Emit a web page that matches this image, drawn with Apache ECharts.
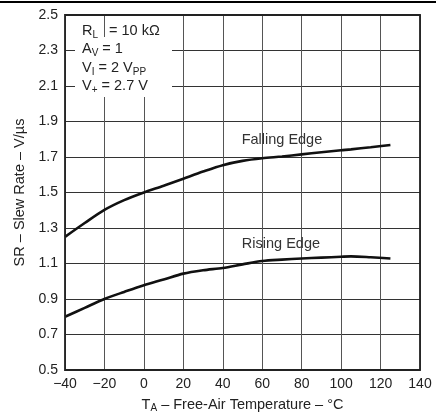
<!DOCTYPE html>
<html><head><meta charset="utf-8">
<script src="https://cdn.jsdelivr.net/npm/echarts@6/dist/echarts.min.js"></script>
<style>html,body{margin:0;padding:0;background:#fff}#c{width:436px;height:412px}</style>
</head><body><div id="c"></div>
<script>
const temps = [-40, -30, -20, -10, 0, 10, 20, 30, 40, 50, 60, 70, 80, 90, 100, 105, 115, 125];
const fallingEdge = [1.25, 1.328, 1.402, 1.457, 1.50, 1.538, 1.578, 1.618, 1.654, 1.678, 1.693, 1.703, 1.715, 1.727, 1.738, 1.743, 1.755, 1.768];
const risingEdge = [0.80, 0.85, 0.90, 0.94, 0.978, 1.01, 1.043, 1.062, 1.075, 1.095, 1.114, 1.122, 1.128, 1.133, 1.138, 1.14, 1.135, 1.128];
const xTicks = [-40, -20, 0, 20, 40, 60, 80, 100, 120, 140];
const yTicks = [0.5, 0.7, 0.9, 1.1, 1.3, 1.5, 1.7, 1.9, 2.1, 2.3, 2.5];
const curveLabels = [{name: 'Falling Edge', at: [70, 1.797]}, {name: 'Rising Edge', at: [69.5, 1.212]}];

const font = 'Liberation Sans, Arial, Helvetica, sans-serif';
const chart = echarts.init(document.getElementById('c'));
const pairs = arr => temps.map((t, i) => [t, arr[i]]);
function mk(name, arr, lab) {
  return {
    type: 'line', name, data: pairs(arr), smooth: 0.3, symbol: 'none',
    lineStyle: {color: '#111', width: 2.6},
    markPoint: {
      symbol: 'circle', symbolSize: 0,
      data: [{coord: lab.at, value: lab.name}],
      label: {show: true, formatter: lab.name, color: '#333', fontSize: 14.5, fontFamily: font, position: 'inside'}
    }
  };
}
chart.setOption({
  animation: false,
  grid: {left: 65, right: 16, top: 15, bottom: 42, containLabel: false, outerBoundsMode: 'none'},
  xAxis: {
    type: 'value', min: -40, max: 140, interval: 20,
    axisLine: {show: false}, axisTick: {show: false},
    axisLabel: {color: '#222', fontSize: 14, fontFamily: font, margin: 7,
      formatter: v => xTicks.includes(v) ? String(v).replace('-', '\u2212') : ''},
    splitLine: {show: true, lineStyle: {color: '#555', width: 1}},
    name: '{t|T}{s|A}{t| \u2013 Free-Air Temperature \u2013 \u00b0C}', nameLocation: 'middle', nameGap: 26,
    nameTextStyle: {rich: {t: {fontSize: 14.5, color: '#222', fontFamily: font}, s: {fontSize: 10, color: '#222', fontFamily: font, verticalAlign: 'bottom', padding: [7, 0, 0, 0]}}}
  },
  yAxis: {
    type: 'value', min: 0.5, max: 2.5, interval: 0.2,
    axisLine: {show: false}, axisTick: {show: false},
    axisLabel: {color: '#222', fontSize: 14, fontFamily: font, margin: 7,
      formatter: v => { const f = yTicks.find(t => Math.abs(t - v) < 1e-6); return f !== undefined ? f.toFixed(1) : ''; }},
    splitLine: {show: true, lineStyle: {color: '#333', width: 1}},
    name: 'SR \u2013 Slew Rate \u2013 V/\u00b5s', nameLocation: 'middle', nameGap: 34,
    nameTextStyle: {fontSize: 14.5, color: '#222', fontFamily: font}
  },
  series: [mk('Falling Edge', fallingEdge, curveLabels[0]), mk('Rising Edge', risingEdge, curveLabels[1])],
  graphic: [
    {type: 'line', shape: {x1: 0, y1: 2, x2: 436, y2: 2}, style: {stroke: '#000', lineWidth: 2}},
    {type: 'rect', shape: {x: 65, y: 15, width: 355, height: 355}, style: {fill: 'none', stroke: '#222', lineWidth: 1.8}, z: 10},
    {type: 'rect', shape: {x: 108, y: 16, width: 64, height: 22}, style: {fill: '#fff'}, z: 5},
    {type: 'rect', shape: {x: 75, y: 37, width: 97, height: 60}, style: {fill: '#fff'}, z: 5},
    {type: 'text', left: 82, top: 23, z: 6, style: {
      text: '{t|R}{s|L}{g|}{t|= 10 k\u03a9}\n{t|A}{s|V}{t| = 1}\n{t|V}{s|I}{t| = 2 V}{s|PP}\n{t|V}{s|+}{t| = 2.7 V}',
      rich: {
        t: {fontSize: 14.5, fill: '#222', fontFamily: font, lineHeight: 18.5},
        g: {width: 11, fontSize: 14.5, lineHeight: 18.5},
        s: {fontSize: 10, fill: '#222', fontFamily: font, lineHeight: 18.5, verticalAlign: 'bottom', padding: [7, 0, 0, 0]}
      }}}
  ]
});
</script></body></html>
